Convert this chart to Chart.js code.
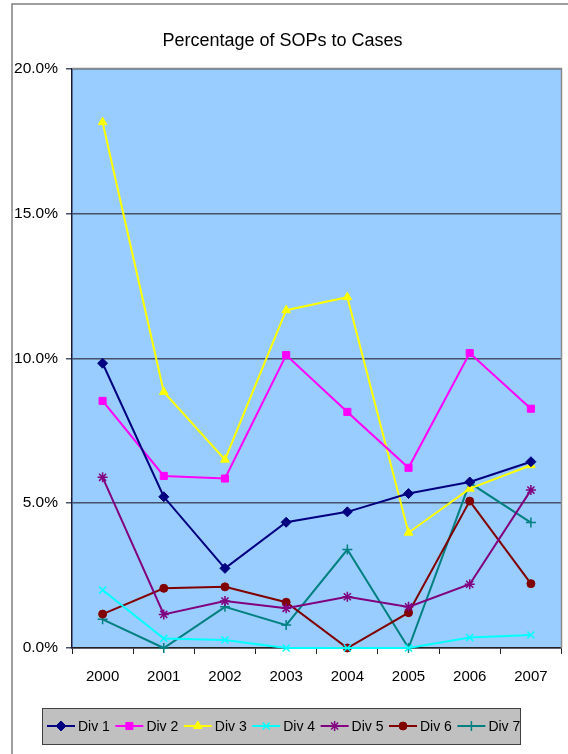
<!DOCTYPE html>
<html>
<head>
<meta charset="utf-8">
<script src="https://cdn.jsdelivr.net/npm/chart.js@4"></script>
<style>
  body { margin: 0; background: #fff; }
  #wrap { width: 568px; height: 754px; position: relative; }
</style>
</head>
<body>
<div id="wrap"><canvas id="sopChart"></canvas></div>
<script>
const years = ['2000', '2001', '2002', '2003', '2004', '2005', '2006', '2007'];
const div1 = [9.83, 5.22, 2.75, 4.34, 4.70, 5.33, 5.73, 6.43];
const div2 = [8.53, 5.94, 5.85, 10.11, 8.15, 6.22, 10.18, 8.26];
const div3 = [18.15, 8.84, 6.50, 11.66, 12.11, 3.98, 5.50, 6.31];
const div4 = [2.00, 0.33, 0.28, 0.00, 0.00, 0.00, 0.36, 0.45];
const div5 = [5.89, 1.16, 1.62, 1.37, 1.77, 1.42, 2.20, 5.45];
const div6 = [1.17, 2.06, 2.11, 1.58, 0.00, 1.22, 5.07, 2.22];
const div7 = [0.99, 0.00, 1.42, 0.79, 3.40, 0.00, 5.70, 4.33];
const yTicks = [0, 5, 10, 15, 20];

const FONT = '"Liberation Sans", Arial, sans-serif';

const mkSet = (label, data, color, style, radius) => ({
    label: label,
    data: data,
    borderColor: color,
    backgroundColor: color,
    borderWidth: 2,
    pointStyle: style,
    pointRadius: radius,
    pointBorderWidth: style === 'cross' || style === 'crossRot' || style === 'star' ? 1.5 : 1,
    pointBackgroundColor: color,
    pointBorderColor: color,
    tension: 0,
    clip: false
});

const datasets = [
    mkSet('Div 1', div1, '#000080', 'rectRot', 5),
    mkSet('Div 2', div2, '#FF00FF', 'rect', 5),
    mkSet('Div 3', div3, '#FFFF00', 'triangle', 5),
    mkSet('Div 4', div4, '#00FFFF', 'crossRot', 5),
    mkSet('Div 5', div5, '#800080', 'star', 5),
    mkSet('Div 6', div6, '#800000', 'circle', 4),
    mkSet('Div 7', div7, '#008080', 'cross', 5)
];

// plot background, outer frame
const backdrop = {
    id: 'backdrop',
    beforeDraw(chart) {
        const { ctx, chartArea: a } = chart;
        ctx.save();
        ctx.strokeStyle = '#808080';
        ctx.lineWidth = 1.5;
        ctx.strokeRect(12, 4, 700, 800);
        ctx.fillStyle = '#99CCFF';
        ctx.fillRect(a.left, a.top, a.right - a.left, a.bottom - a.top);
        ctx.restore();
    },
    beforeDatasetsDraw(chart) {
        const { ctx, chartArea: a } = chart;
        ctx.save();
        ctx.strokeStyle = '#8a8a8a';
        ctx.lineWidth = 1.5;
        ctx.beginPath();
        ctx.moveTo(a.left, a.top);
        ctx.lineTo(a.right, a.top);
        ctx.lineTo(a.right, a.bottom);
        ctx.stroke();
        ctx.restore();
    }
};

// Excel style legend: grey box, line + marker per series
const boxLegend = {
    id: 'boxLegend',
    afterDraw(chart) {
        const ctx = chart.ctx;
        const bx = 42, by = 708, bw = 478, bh = 36;
        ctx.save();
        ctx.fillStyle = '#C0C0C0';
        ctx.fillRect(bx, by, bw, bh);
        ctx.strokeStyle = '#404040';
        ctx.lineWidth = 1;
        ctx.strokeRect(bx + 0.5, by + 0.5, bw, bh);

        ctx.font = '14px ' + FONT;
        ctx.textBaseline = 'middle';
        const lineLen = 28, step = 68.4;
        const cy = by + bh / 2;
        chart.data.datasets.forEach((ds, i) => {
            const x = 47 + i * step;
            ctx.strokeStyle = ds.borderColor;
            ctx.lineWidth = 2;
            ctx.beginPath();
            ctx.moveTo(x, cy);
            ctx.lineTo(x + lineLen, cy);
            ctx.stroke();
            ctx.fillStyle = ds.pointBackgroundColor;
            ctx.strokeStyle = ds.pointBorderColor;
            ctx.lineWidth = ds.pointBorderWidth;
            Chart.helpers.drawPoint(ctx, { pointStyle: ds.pointStyle, radius: ds.pointRadius, rotation: 0, borderWidth: ds.pointBorderWidth }, x + lineLen / 2, cy);
            ctx.fillStyle = '#000';
            ctx.fillText(ds.label, x + lineLen + 3, cy + 1);
        });
        ctx.restore();
    }
};

document.addEventListener('DOMContentLoaded', () => {
    const ctx = document.getElementById('sopChart').getContext('2d');
    new Chart(ctx, {
        type: 'line',
        data: { labels: years, datasets: datasets },
        options: {
            responsive: true,
            maintainAspectRatio: false,
            animation: false,
            layout: { padding: { left: 0, right: 3, top: 0, bottom: 0 } },
            plugins: {
                legend: { display: false },
                tooltip: { enabled: false },
                title: {
                    display: true,
                    text: 'Percentage of SOPs to Cases',
                    color: '#000',
                    font: { family: FONT, size: 18, weight: 'normal' },
                    padding: { top: 30, bottom: 17 }
                }
            },
            scales: {
                x: {
                    offset: true,
                    grid: { offset: true, drawOnChartArea: false, tickLength: 6, color: '#222' },
                    border: { color: '#222', width: 1.5 },
                    ticks: { color: '#000', padding: 14, font: { family: FONT, size: 15 } },
                    afterFit(scale) { scale.height = 106; }
                },
                y: {
                    min: 0,
                    max: 20,
                    afterBuildTicks(scale) { scale.ticks = yTicks.map(v => ({ value: v })); },
                    grid: { color: '#46506a', lineWidth: 1.5, tickLength: 6 },
                    border: { color: '#1a1a3a', width: 1.5 },
                    ticks: {
                        color: '#000',
                        padding: 8,
                        font: { family: FONT, size: 15.5 },
                        callback: v => v.toFixed(1) + '%'
                    },
                    afterFit(scale) { scale.width = 72; }
                }
            }
        },
        plugins: [backdrop, boxLegend]
    });
});
</script>
</body>
</html>
